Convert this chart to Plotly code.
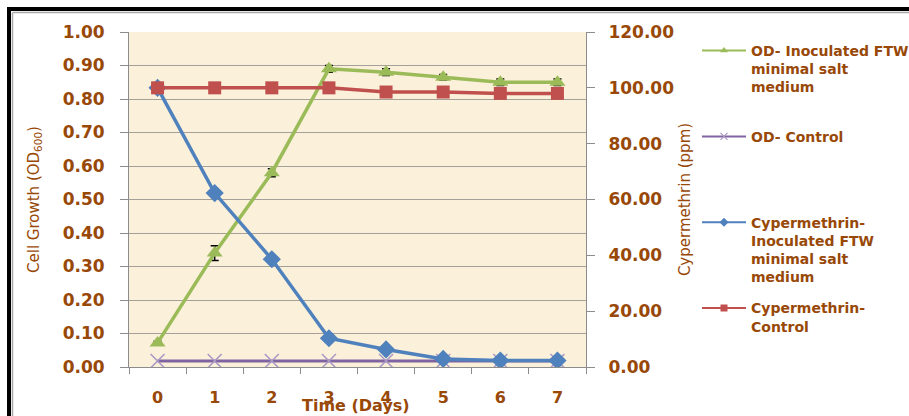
import plotly.graph_objects as go

days = ["0", "1", "2", "3", "4", "5", "6", "7"]
od_inoculated = [0.072, 0.34, 0.58, 0.89, 0.88, 0.865, 0.85, 0.85]
od_inoculated_err = [0.005, 0.022, 0.012, 0.01, 0.01, 0.008, 0.01, 0.01]
od_control = [0.018, 0.018, 0.018, 0.018, 0.018, 0.018, 0.018, 0.018]
cyp_inoculated = [100.0, 62.3, 38.6, 10.3, 6.3, 2.9, 2.3, 2.3]
cyp_control = [100.0, 100.0, 100.0, 100.0, 98.5, 98.5, 98.0, 98.0]

names = [
    "OD- Inoculated FTW<br>minimal salt<br>medium<br>\u00a0",
    "OD- Control<br>\u00a0<br>\u00a0<br>\u00a0",
    "Cypermethrin-<br>Inoculated FTW<br>minimal salt<br>medium",
    "Cypermethrin-<br>Control",
]

GREEN = "#9BBB59"
PURPLE = "#8064A2"
BLUE = "#4F81BD"
RED = "#C0504D"
BROWN = "#984807"
FONT = "DejaVu Sans"

W, H = 909, 416
L, R, T, B = 129, 586, 32, 367


def px(x):
    return (x - L) / (R - L)


def py(y):
    return (B - y) / (B - T)


fig = go.Figure()

# data traces
fig.add_trace(go.Scatter(
    x=days, y=od_inoculated, mode="lines+markers", showlegend=False,
    line=dict(color=GREEN, width=3.5),
    marker=dict(symbol="triangle-up", size=14, color=GREEN),
    error_y=dict(type="data", array=od_inoculated_err, color="black", thickness=1.5, width=4),
    yaxis="y"))
fig.add_trace(go.Scatter(
    x=days, y=od_control, mode="lines+markers", showlegend=False,
    line=dict(color=PURPLE, width=3),
    marker=dict(symbol="x-thin", size=14, color="#A898C4", line=dict(width=1.5, color="#A898C4")),
    yaxis="y"))
fig.add_trace(go.Scatter(
    x=days, y=cyp_inoculated, mode="lines+markers", showlegend=False,
    line=dict(color=BLUE, width=3.5),
    marker=dict(symbol="diamond", size=14, color=BLUE),
    yaxis="y2"))
fig.add_trace(go.Scatter(
    x=days, y=cyp_control, mode="lines+markers", showlegend=False,
    line=dict(color=RED, width=3.5),
    marker=dict(symbol="square", size=13, color=RED),
    yaxis="y2"))

# legend entries
leg = [
    (names[0], GREEN, dict(symbol="triangle-up", size=7, color=GREEN)),
    (names[1], PURPLE, dict(symbol="x-thin", size=7, color="#A898C4", line=dict(width=1.2, color="#A898C4"))),
    (names[2], BLUE, dict(symbol="diamond", size=7, color=BLUE)),
    (names[3], RED, dict(symbol="square", size=7, color=RED)),
]
for i, (nm, col, mk) in enumerate(leg):
    fig.add_trace(go.Scatter(
        x=[None], y=[None], mode="lines+markers", name=nm, legendgroup=f"g{i}",
        line=dict(color=col, width=2), marker=mk, yaxis="y", showlegend=True))

fig.update_layout(
    width=W, height=H,
    margin=dict(l=L, r=W - R, t=T, b=H - B, autoexpand=False),
    paper_bgcolor="#FFFFFF",
    plot_bgcolor="#FBF0DA",
    font=dict(family=FONT, color=BROWN),
    xaxis=dict(
        type="category", range=[-0.5, 7.5], tickson="boundaries", automargin=False,
        ticks="outside", ticklen=6, tickcolor="#8C8C8C",
        showline=True, linecolor="#8C8C8C", linewidth=1,
        showgrid=False, zeroline=False,
        tickfont=dict(family=FONT, size=16, color=BROWN, weight="bold"),
        ticklabelstandoff=16,
    ),
    yaxis=dict(
        range=[0, 1], dtick=0.1, tickformat=".2f", automargin=False,
        ticks="outside", ticklen=8, tickcolor="#8C8C8C",
        showline=True, linecolor="#8C8C8C", linewidth=1,
        gridcolor="#A5A19A", gridwidth=1, zeroline=False,
        tickfont=dict(family=FONT, size=17, color=BROWN, weight="bold"),
        ticklabelstandoff=12,
        title=dict(text="Cell Growth (OD<sub>600</sub>)", standoff=19,
                   font=dict(family=FONT, size=15, color=BROWN)),
    ),
    yaxis2=dict(
        range=[0, 120], dtick=20, tickformat=".2f", overlaying="y", side="right",
        automargin=False,
        ticks="outside", ticklen=8, tickcolor="#8C8C8C",
        showline=True, linecolor="#8C8C8C", linewidth=1,
        showgrid=False, zeroline=False,
        tickfont=dict(family=FONT, size=17, color=BROWN, weight="bold"),
        ticklabelstandoff=10,
        title=dict(text="Cypermethrin (ppm)", standoff=6,
                   font=dict(family=FONT, size=15, color=BROWN)),
    ),
    legend=dict(
        xref="container", yref="container",
        x=697 / W, y=1 - 35 / H, xanchor="left", yanchor="top",
        valign="top", tracegroupgap=10, itemwidth=44, maxheight=380,
        bgcolor="rgba(0,0,0,0)",
        font=dict(family=FONT, size=14, color=BROWN, weight="bold"),
    ),
    annotations=[dict(
        text="Time (Days)", xref="paper", yref="paper", x=px(356), y=py(405),
        xanchor="center", yanchor="middle", showarrow=False,
        font=dict(family=FONT, size=16, color=BROWN, weight="bold"),
    )],
    shapes=[
        # outer black frame (top and left)
        dict(type="line", xref="paper", yref="paper", x0=px(7), x1=px(W + 5), y0=py(9), y1=py(9),
             line=dict(color="black", width=4)),
        dict(type="line", xref="paper", yref="paper", x0=px(9), x1=px(9), y0=py(7), y1=py(H + 5),
             line=dict(color="black", width=4)),
        # inner gray frame
        dict(type="line", xref="paper", yref="paper", x0=px(12.5), x1=px(W + 5), y0=py(12.5), y1=py(12.5),
             line=dict(color="#A8A8A8", width=1.5)),
        dict(type="line", xref="paper", yref="paper", x0=px(12.5), x1=px(12.5), y0=py(12.5), y1=py(H + 5),
             line=dict(color="#A8A8A8", width=1.5)),
    ],
)

fig.write_html("out.html")
